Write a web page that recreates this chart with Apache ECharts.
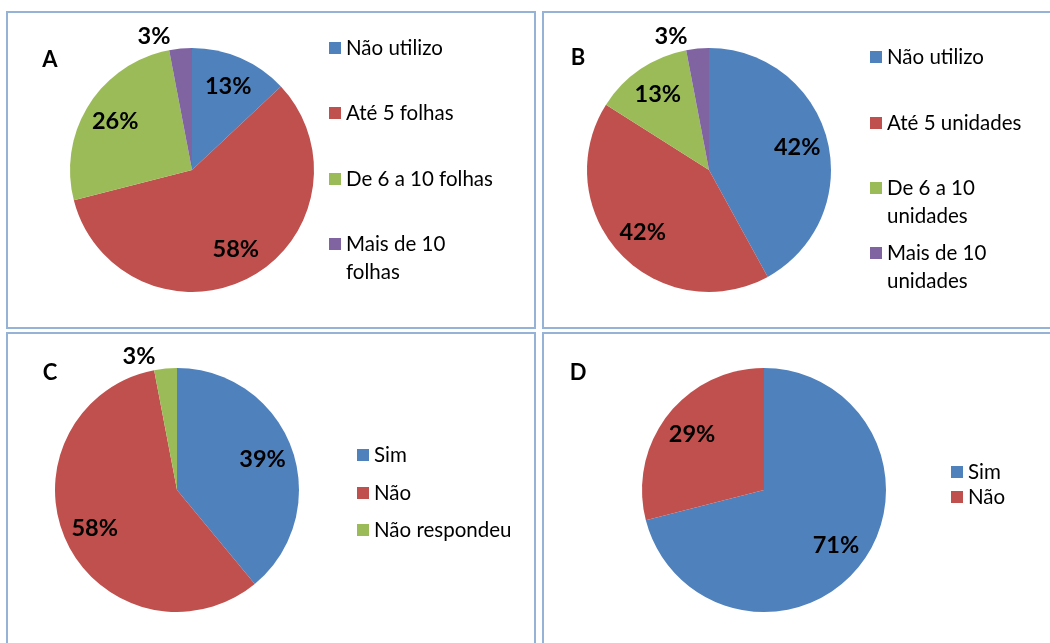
<!DOCTYPE html>
<html><head><meta charset="utf-8">
<script src="https://cdn.jsdelivr.net/npm/echarts@6/dist/echarts.min.js"></script>
<style>html,body{margin:0;padding:0;background:#fff}#c{width:1050px;height:643px}</style>
</head><body><div id="c"></div>
<script>
// ---- data ----
const namesA = ['Não utilizo', 'Até 5 folhas', 'De 6 a 10 folhas', 'Mais de 10\nfolhas'];
const valuesA = [13, 58, 26, 3];
const namesB = ['Não utilizo', 'Até 5 unidades', 'De 6 a 10\nunidades', 'Mais de 10\nunidades'];
const valuesB = [42, 42, 13, 3];
const namesC = ['Sim', 'Não', 'Não respondeu'];
const valuesC = [39, 58, 3];
const namesD = ['Sim', 'Não'];
const valuesD = [71, 29];
const panelLetters = ['A', 'B', 'C', 'D'];

// ---- styling / layout ----
const colors = ['#4f81bd', '#c0504d', '#9bbb59', '#8064a2'];
const FONT = 'Lato';
const panels = [
  {names: namesA, values: valuesA, center: [192, 170], letter: [50, 60], box: [7, 12, 528, 316], legendLeft: 329, legendY: [48, 113, 179, 244]},
  {names: namesB, values: valuesB, center: [709, 170], letter: [578, 58], box: [543, 12, 520, 316], legendLeft: 870, legendY: [57, 123, 188, 253]},
  {names: namesC, values: valuesC, center: [177, 490], letter: [50, 373], box: [7, 333, 528, 320], legendLeft: 357, legendY: [455, 493, 530]},
  {names: namesD, values: valuesD, center: [764, 490], letter: [578, 373], box: [543, 333, 520, 320], legendLeft: 951, legendY: [472, 497]}
];
const R = 122;
const labelStyle = {color: '#000', fontFamily: FONT, fontWeight: 'bold', fontSize: 23.5};

const series = [];
const legends = [];
const graphics = [];

panels.forEach((p, pi) => {
  // main pie
  series.push({
    type: 'pie', center: p.center, radius: [0, R], startAngle: 90, clockwise: true,
    avoidLabelOverlap: false, silent: true, animation: false,
    label: Object.assign({position: 'outside', formatter: '{c}%'}, labelStyle),
    labelLine: {show: false, length: 12, length2: 4},
    data: p.names.map((n, i) => ({
      name: n, value: p.values[i],
      itemStyle: {color: colors[i]},
      label: {show: p.values[i] < 5}
    }))
  });
  // label ring (transparent) to place inside labels like Excel
  series.push({
    type: 'pie', center: p.center, radius: [54, R], startAngle: 90, clockwise: true,
    avoidLabelOverlap: false, silent: true, animation: false,
    label: Object.assign({position: 'inside', formatter: '{c}%'}, labelStyle),
    labelLine: {show: false},
    data: p.names.map((n, i) => ({
      name: n, value: p.values[i],
      itemStyle: {color: 'rgba(0,0,0,0)'},
      label: {show: p.values[i] >= 5}
    }))
  });
  // legends: one per item
  p.names.forEach((n, i) => {
    const twoLine = n.indexOf('\n') >= 0;
    legends.push({
      left: p.legendLeft, top: p.legendY[i] - 14, orient: 'vertical', padding: 0,
      selectedMode: false,
      itemWidth: 12, itemHeight: twoLine ? 40 : 12,
      icon: twoLine ? 'path://M0,0H12V12H0Z M0,40h0.01v0.01h-0.01Z' : 'rect',
      textStyle: {fontFamily: FONT, fontSize: 20.5, color: '#000', lineHeight: 28},
      data: [{name: n, itemStyle: {color: colors[i], borderWidth: 0}}]
    });
  });
  graphics.push({
    type: 'rect', shape: {x: p.box[0], y: p.box[1], width: p.box[2], height: p.box[3]},
    style: {fill: 'none', stroke: '#95b3d7', lineWidth: 2}, silent: true
  });
  graphics.push({
    type: 'text', x: p.letter[0], y: p.letter[1],
    style: {text: panelLetters[pi], fontFamily: FONT, fontWeight: 'bold', fontSize: 22, fill: '#000', align: 'center', verticalAlign: 'middle'},
    silent: true
  });
});

const chart = echarts.init(document.getElementById('c'));
chart.setOption({
  animation: false,
  backgroundColor: '#fff',
  legend: legends,
  series: series,
  graphic: graphics
});
</script>
</body></html>
